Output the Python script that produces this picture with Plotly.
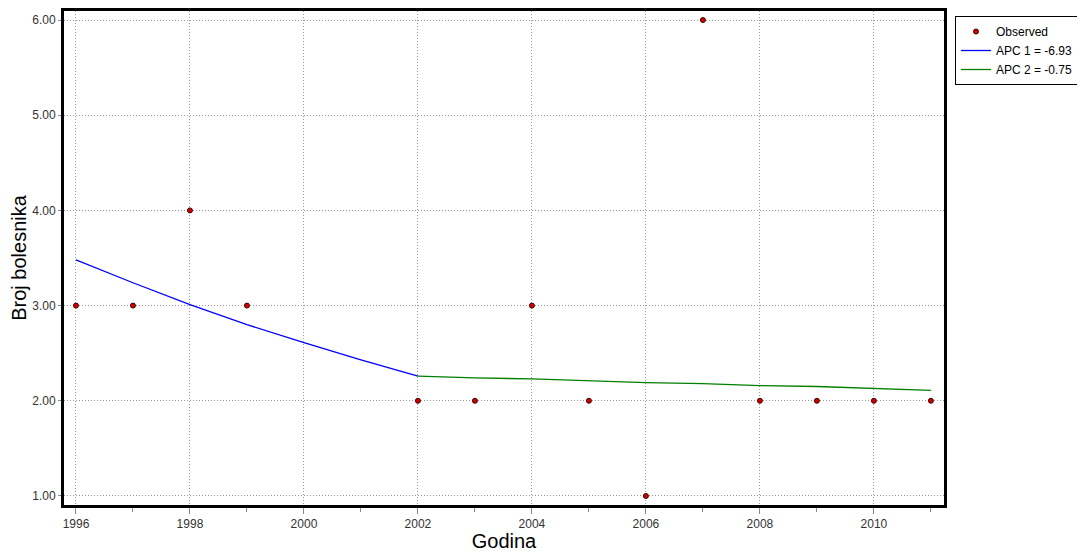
import plotly.graph_objects as go

years_obs = [1996, 1997, 1998, 1999, 2002, 2003, 2004, 2005, 2006, 2007, 2008, 2009, 2010, 2011]
observed = [3, 3, 4, 3, 2, 2, 3, 2, 1, 6, 2, 2, 2, 2]

years_seg1 = [1996, 1997, 1998, 1999, 2000, 2001, 2002]
fit_seg1 = [3.48, 3.24, 3.01, 2.80, 2.61, 2.43, 2.26]

years_seg2 = [2002, 2003, 2004, 2005, 2006, 2007, 2008, 2009, 2010, 2011]
fit_seg2 = [2.26, 2.24, 2.23, 2.21, 2.19, 2.18, 2.16, 2.15, 2.13, 2.11]

x_ticks = [1996, 1998, 2000, 2002, 2004, 2006, 2008, 2010]
y_ticks = [1, 2, 3, 4, 5, 6]

fig = go.Figure()
fig.add_trace(go.Scatter(
    x=years_obs, y=observed, mode="markers", name="Observed",
    marker=dict(color="#d00000", size=5, line=dict(color="#400000", width=1)),
))
fig.add_trace(go.Scatter(
    x=years_seg1, y=fit_seg1, mode="lines", name="APC 1 = -6.93",
    line=dict(color="#0000ff", width=1.3),
))
fig.add_trace(go.Scatter(
    x=years_seg2, y=fit_seg2, mode="lines", name="APC 2 = -0.75",
    line=dict(color="#008000", width=1.3),
))

# page body has an 8px default margin; figure sized so plot area lands where the reference has it
W, H = 1077, 544
fig.update_layout(
    width=W, height=H,
    margin=dict(l=56, r=141, t=3, b=47, autoexpand=False),
    plot_bgcolor="white", paper_bgcolor="white",
    font=dict(family="Liberation Sans, Arial, sans-serif", size=12, color="#333333"),
    showlegend=True,
    legend=dict(
        xref="container", yref="container",
        x=(955 - 8) / W, y=1 - (16 - 8) / H, xanchor="left", yanchor="top",
        bordercolor="black", borderwidth=1, bgcolor="white",
        font=dict(size=12, color="black"),
        tracegroupgap=0, itemwidth=30,
    ),
    xaxis=dict(
        range=[1995.79, 2011.23], tickvals=x_ticks,
        showgrid=True, gridcolor="#999999", griddash="1px,2px", gridwidth=1,
        showline=True, linecolor="black", linewidth=3, mirror=True,
        ticks="outside", ticklen=6, tickcolor="#888888",
        minor=dict(dtick=1, tick0=1996, ticks="outside", ticklen=4, tickcolor="#888888", showgrid=False),
        zeroline=False,
        title=dict(text="Godina", font=dict(size=20, color="black"), standoff=4),
        tickfont=dict(size=12, color="#333333"),
    ),
    yaxis=dict(
        range=[0.905, 6.095], tickvals=y_ticks, tickformat=".2f",
        showgrid=True, gridcolor="#999999", griddash="1px,2px", gridwidth=1,
        showline=True, linecolor="black", linewidth=3, mirror=True,
        ticks="outside", ticklen=3, tickcolor="#888888",
        zeroline=False,
        title=dict(text="Broj bolesnika", font=dict(size=20, color="black"), standoff=8),
        tickfont=dict(size=12, color="#333333"),
    ),
)

fig.write_html("out.html")
